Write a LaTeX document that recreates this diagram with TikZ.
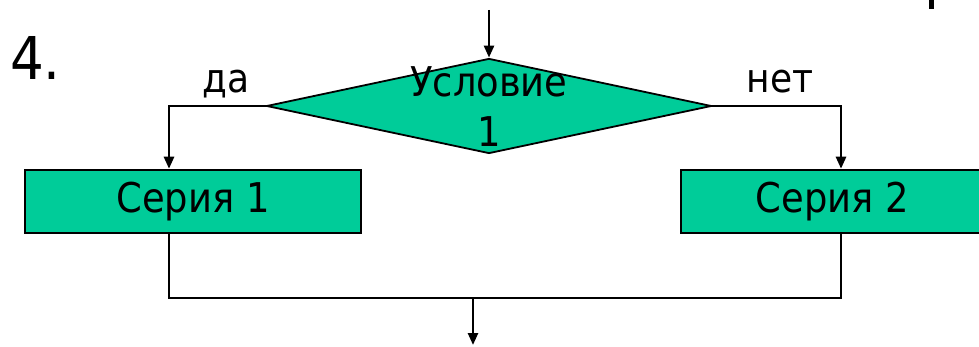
\documentclass[tikz,border=0pt]{standalone}
\usepackage{fontspec}
\setmainfont{DejaVu Sans Condensed}
\usepackage{tikz}
\usetikzlibrary{arrows.meta,shapes.geometric}

\definecolor{blockgreen}{RGB}{0,204,153}

\tikzset{
  flow/.style={line width=2.5pt},
  flowarr/.style={line width=2.5pt,-{Triangle[length=12pt,width=10pt]}},
  series/.style={draw,line width=2.5pt,fill=blockgreen,rectangle,
    minimum width=336pt,minimum height=63pt,inner sep=0pt,
    font=\fontsize{41}{49}\selectfont},
  lbl/.style={font=\fontsize{40}{48}\selectfont,anchor=base,inner sep=0pt}
}

\begin{document}
\begin{tikzpicture}[x=1pt,y=-1pt]
		\useasboundingbox (0,0) rectangle (979,347);
		
		% number of the case
		\node[font=\fontsize{59}{70}\selectfont,anchor=base west,inner sep=0pt] (num) at (10,80) {4.};
		% piece of a letter cut at the page edge
		\fill (929,0) rectangle (934,9);
		
		% the branching condition
		\coordinate (in) at (489,10);
		\node[diamond,draw,line width=1.8pt,fill=blockgreen,inner sep=0pt,
		minimum width=445pt,minimum height=95pt] (cond) at (489,106) {};
		% last line sits on the base anchor
		\node[lbl,font=\fontsize{41}{50}\selectfont,align=center] (condtext) at (489,147) {Условие\\1};
		\draw[flowarr] (in) -- (cond.north);
		
		% both series
		\node[series] (s1) at (193,201.5) {Серия 1};
		\node[series] (s2) at (849,201.5) {};
		\node[font=\fontsize{41}{49}\selectfont,inner sep=0pt] (s2text) at (832.5,201.5) {Серия 2};
		
		% yes / no branches
		\coordinate (lbr) at (169,106);
		\coordinate (rbr) at (841,106);
		\draw[flowarr] (cond.west) -- (lbr) -- (lbr |- s1.north);
		\draw[flowarr] (cond.east) -- (rbr) -- (rbr |- s2.north);
		\node[lbl] (yes) at (226,93) {да};
		\node[lbl] (no) at (780,93) {нет};
		
		% merge below the series
		\coordinate (jl) at (169,298);
		\coordinate (jr) at (841,298);
		\coordinate (jm) at (473,298);
		\coordinate (out) at (473,345);
		\draw[flow] (lbr |- s1.south) -- (jl) -- (jr) -- (rbr |- s2.south);
		\draw[flowarr] (jm) -- (out);
	\end{tikzpicture}
\end{document}
